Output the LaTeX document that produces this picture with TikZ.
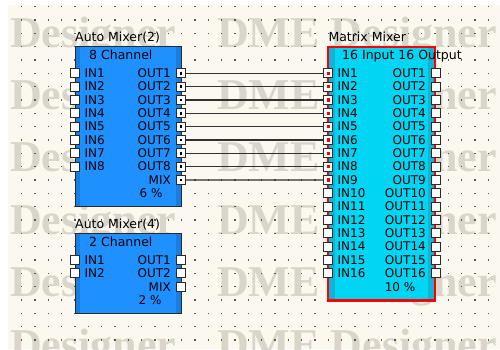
\documentclass[tikz,border=0pt]{standalone}
\usepackage{fontspec}
\usetikzlibrary{calc}
\setmainfont{DejaVu Sans}
\newfontfamily\wmfont{Liberation Serif}
\definecolor{cream}{HTML}{FAF8EF}
\definecolor{wmgrey}{HTML}{D9D5CA}
\definecolor{dotc}{HTML}{5A5A5A}
\definecolor{bluefill}{HTML}{1E90FF}
\definecolor{bluestrip}{HTML}{1A7DE0}
\definecolor{cyanfill}{HTML}{00D6F4}
\definecolor{cyanstrip}{HTML}{10B4D4}
\definecolor{boxline}{HTML}{2A2A2A}
\definecolor{wirec}{HTML}{303030}
\begin{document}
\begin{tikzpicture}[x=1pt,y=-1pt,
  wm/.style={inner sep=0,anchor=base west,text=wmgrey,font=\wmfont\bfseries\fontsize{44}{44}\selectfont},
  ttl/.style={inner sep=0,anchor=base west,text=black,font=\fontsize{12.5}{13}\selectfont},
  lbl/.style={inner sep=0,text=black,font=\fontsize{12}{12}\selectfont},
  port/.style={draw=boxline,fill=white,minimum size=9pt,inner sep=0,line width=0.8pt},
  wire/.style={draw=wirec,line width=1.1pt},
  outline/.style={draw=boxline,line width=0.9pt}]
\useasboundingbox (0,0) rectangle (500,349);
\fill[white] (0,0) rectangle (500,349);
\fill[cream] (8,5) rectangle (500,349);
% watermark
\foreach \r in {0,...,5}{
  \pgfmathsetmacro\wy{18+62.4*\r+29}
  \node[wm] (wl\r) at (10,\wy) {Designer};
  \node[wm] (wr\r) at (217,\wy) {DME Designer};
}
% grid dots
\foreach \i in {1,...,36}{
  \foreach \j in {0,...,25}{
    \fill[dotc] ({8.333+13.333*\i-0.6},{6.667+13.333*\j-0.6}) rectangle ++(1.2,1.2);
  }
}
% ---------- Auto Mixer(2)
\fill[bluefill] (75,46.7) rectangle (181.7,206.7);
\fill[bluestrip] (75,46.7) rectangle (80,206.7);
\fill[bluestrip] (175.5,46.7) rectangle (181.7,206.7);
\draw[outline] (75,46.7) rectangle (181.7,206.7);
\node[ttl] (t1) at (75,41.7) {Auto Mixer(2)};
\node[ttl] (h1) at (89,59) {8 Channel};
\foreach \k in {1,...,8}{
  \pgfmathsetmacro\yy{73.333+13.333*(\k-1)}
  \node[port] (a1i\k) at (74.5,\yy) {};
  \node[port] (a1o\k) at (181,\yy) {};
  \node[lbl,anchor=base west] (a1li\k) at (84.5,\yy+4.3) {IN\k};
  \node[lbl,anchor=base east] (a1lo\k) at (171,\yy+4.3) {OUT\k};
}
\node[port] (a1o9) at (181,180) {};
\node[lbl,anchor=base east] (a1mix) at (171,184.3) {MIX};
\node[lbl] (a1p) at (151,193.5) {6 \%};
% ---------- Auto Mixer(4)
\fill[bluefill] (75,233.3) rectangle (181.7,313.3);
\fill[bluestrip] (75,233.3) rectangle (80,313.3);
\fill[bluestrip] (175.5,233.3) rectangle (181.7,313.3);
\draw[outline] (75,233.3) rectangle (181.7,313.3);
\node[ttl] (t2) at (75,228.3) {Auto Mixer(4)};
\node[ttl] (h2) at (89,246) {2 Channel};
\foreach \k in {1,2}{
  \pgfmathsetmacro\yy{260+13.333*(\k-1)}
  \node[port] (a2i\k) at (74.5,\yy) {};
  \node[port] (a2o\k) at (181,\yy) {};
  \node[lbl,anchor=base west] (a2li\k) at (84.5,\yy+4.3) {IN\k};
  \node[lbl,anchor=base east] (a2lo\k) at (171,\yy+4.3) {OUT\k};
}
\node[port] (a2o3) at (181,286.7) {};
\node[lbl,anchor=base east] (a2mix) at (171,291) {MIX};
\node[lbl] (a2p) at (150,300.2) {2 \%};
% ---------- Matrix Mixer
\fill[cyanfill] (328.3,46.7) rectangle (435,300.5);
\fill[cyanstrip] (328.3,46.7) rectangle (335,300.5);
\fill[cyanstrip] (427.5,46.7) rectangle (435,300.5);
\draw[draw=red,line width=2.2pt] (328.3,46.7) rectangle (435,300.5);
\node[ttl] (t3) at (328.3,41.7) {Matrix Mixer};
\node[ttl] (h3) at (342,59) {16 Input 16 Output};
\foreach \k in {1,...,16}{
  \pgfmathsetmacro\yy{73.333+13.333*(\k-1)}
  \node[port] (mi\k) at (328.3,\yy) {};
  \node[port] (mo\k) at (435.5,\yy) {};
  \node[lbl,anchor=base west] (mli\k) at (337.5,\yy+4.3) {IN\k};
  \node[lbl,anchor=base east] (mlo\k) at (426,\yy+4.3) {OUT\k};
}
\node[lbl] (mp) at (400,287) {10 \%};
% ---------- connections
\foreach \k in {1,...,9}{
  \draw[wire] (a1o\k.east) -- (mi\k.west);
  \fill[black] ($(a1o\k.center)+(-1.3,-1.3)$) rectangle ++(2.6,2.6);
  \fill[red] ($(mi\k.center)+(-1.6,-1.6)$) rectangle ++(3.2,3.2);
}
\end{tikzpicture}
\end{document}
